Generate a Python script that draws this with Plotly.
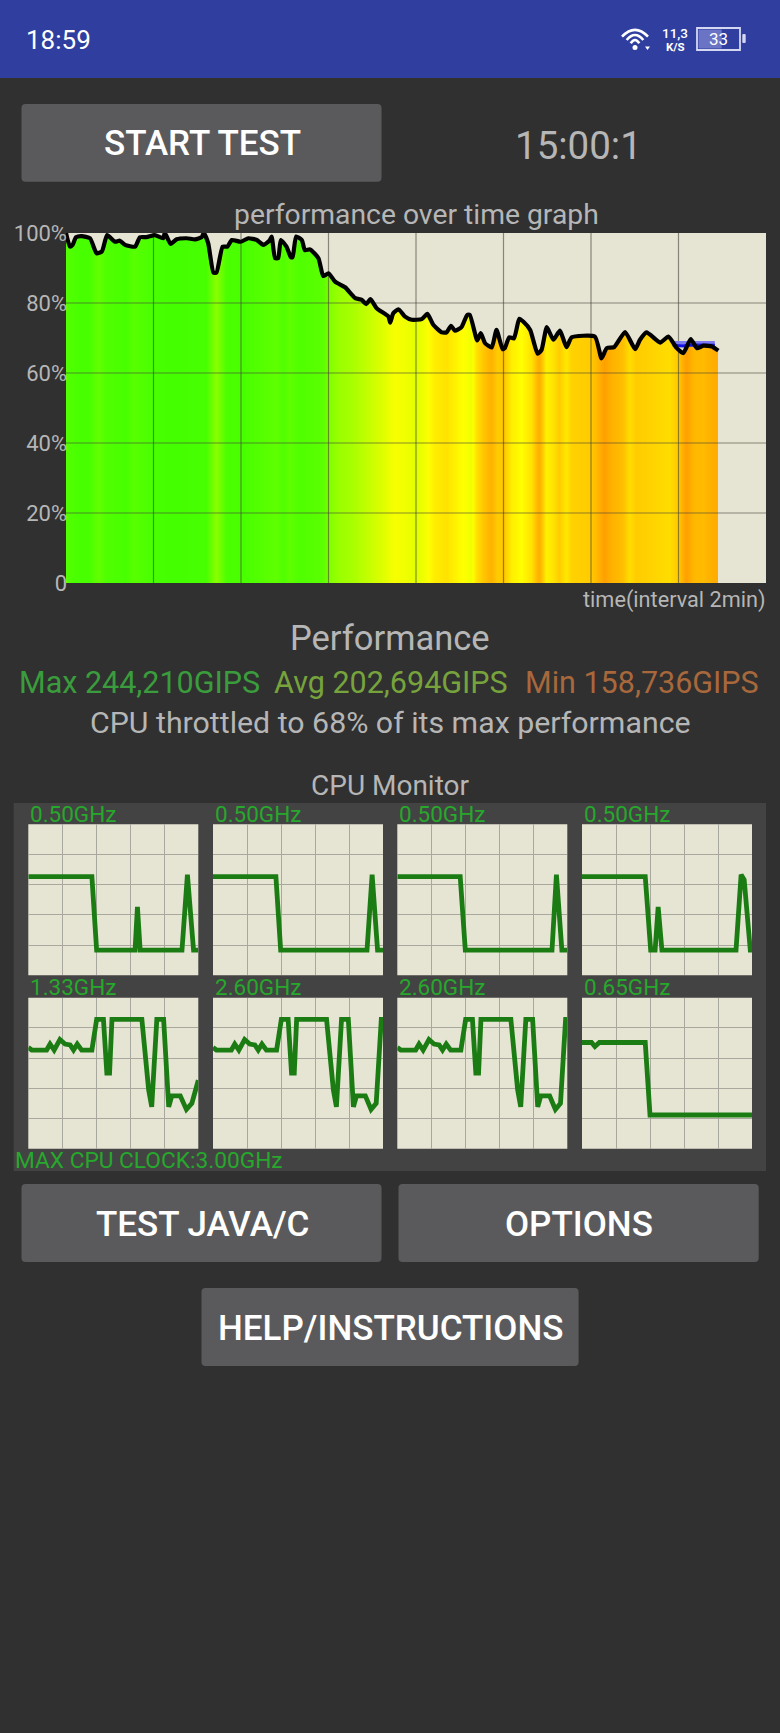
import plotly.graph_objects as go

W, H = 780, 1733

# performance over time, minutes vs % of max
perf_min = [0, 0.09, 0.15, 0.23, 0.36, 0.55, 0.70, 0.82, 0.94, 1.12, 1.23, 1.35, 1.58, 1.69, 1.84, 2.03, 2.22, 2.26,
            2.39, 2.53, 2.76, 2.95, 3.10, 3.15, 3.25, 3.37, 3.44, 3.58, 3.69, 3.79, 3.99, 4.17, 4.36, 4.51, 4.65, 4.70,
            4.78, 4.85, 4.91, 5.04, 5.14, 5.18, 5.26, 5.39, 5.46, 5.58, 5.77, 5.88, 6.00, 6.15, 6.38, 6.61, 6.76, 6.86,
            6.96, 7.10, 7.37, 7.41, 7.48, 7.60, 7.75, 7.90, 8.13, 8.26, 8.40, 8.59, 8.70, 8.80, 8.89, 9.04, 9.17, 9.23,
            9.40, 9.48, 9.58, 9.73, 9.84, 9.98, 10.03, 10.13, 10.24, 10.36, 10.45, 10.61, 10.78, 10.87, 10.99, 11.14,
            11.29, 11.44, 11.56, 12.09, 12.24, 12.36, 12.53, 12.78, 13.01, 13.12, 13.27, 13.58, 13.77, 13.96, 14.11,
            14.28, 14.42, 14.57, 14.76, 14.91]
perf_pct = [100, 96.1, 96.6, 98.8, 99.1, 98.5, 94.2, 94.7, 99.4, 97.5, 97.8, 96.6, 96.1, 98.8, 98.8, 99.4, 98.5, 100,
            96.9, 98.2, 98.5, 98.2, 98.8, 100, 97.1, 88.7, 88.7, 96.1, 96.1, 98, 97.5, 98.5, 98, 96.6, 97.8, 99,
            92.8, 92.8, 98, 96.1, 93.1, 93.1, 99, 98, 95.1, 95.3, 92.8, 87.7, 88.5, 86.1, 84.5, 81.4, 80.9, 79.7,
            81.1, 78.5, 76.1, 74.4, 77.1, 78.2, 76.1, 75.2, 75.4, 76.9, 73.7, 71.6, 71.6, 73.5, 72.1, 73.1, 76.6, 76.6,
            69.3, 71.4, 68.5, 67.3, 72.3, 66.8, 67.1, 70.2, 69.9, 75.5, 74.7, 72.3, 65.5, 66.6, 73.1, 69.5,
            72.1, 67.4, 70.2, 70.4, 64.2, 67.1, 67.4, 71.7, 66.8, 69.5, 71.6, 68.7, 70.4, 67.1, 65.7,
            69.7, 67.1, 67.8, 67.6, 66.4]

# the blue line near the end of the run
blue_min = [13.87, 14.1, 14.3, 14.5, 14.83]
blue_band_pct = [68.5, 68.5, 68.5, 68.5, 68.5]
blue_core_pct = [67.9, 67.7, 68.0, 67.9, 67.9]

# colour of the stripes under the line: 0 green, 0.5 yellow, 1 orange
heat_min = [0, 0.30, 0.53, 0.72, 0.91, 1.37, 1.52, 1.75, 2.0, 2.44, 3.2, 3.43, 3.66, 4.04, 4.42, 4.80, 4.95, 5.10,
            5.33, 5.87, 6.02, 6.25, 6.55, 6.86, 7.24, 7.50, 7.77, 8.0, 8.23, 8.42, 8.68, 8.99, 9.25, 9.37, 9.54, 9.71,
            9.86, 10.02, 10.17, 10.40, 10.63, 10.82, 10.97, 11.12, 11.27, 11.43, 11.54, 11.96, 12.11, 12.30, 12.49,
            12.72, 12.87, 13.03, 13.33, 13.79, 14.02, 14.17, 14.36, 14.55, 14.74, 14.85]
heat_level = [.06, .03, .03, .10, .05, .03, .07, .05, .03, .02, .03, .20, .04, .03, .06, .09, .05, .09,
              .05, .08, .18, .24, .28, .34, .42, .48, .46, .42, .48, .56, .6, .52, .46, .6, .70, .78,
              .68, .70, .56, .5, .6, .80, .55, .6, .68, .58, .66, .68, .74, .90, .78,
              .72, .62, .68, .66, .62, .70, .90, .75, .74, .80, .82]

grid_min = [2, 4, 6, 8, 10, 12, 14]
grid_pct = [20, 40, 60, 80]
pct_ticks = [0, 20, 40, 60, 80, 100]
pct_labels = ["0", "20%", "40%", "60%", "80%", "100%"]

# cpu monitor: time in grid cells (0-5), clock in GHz (0-3)
core0_x = [0, 1.87, 2.01, 3.14, 3.21, 3.29, 4.52, 4.68, 4.86, 5]
core0_y = [1.96, 1.96, 0.5, 0.5, 1.36, 0.5, 0.5, 2.0, 0.5, 0.5]
core1_x = [0, 1.85, 1.99, 4.53, 4.68, 4.84, 5]
core1_y = [1.96, 1.96, 0.5, 0.5, 2.0, 0.5, 0.5]
core2_x = [0, 1.85, 2.0, 4.55, 4.68, 4.84, 5]
core2_y = [1.96, 1.96, 0.5, 0.5, 2.0, 0.5, 0.5]
core3_x = [0, 1.86, 2.02, 2.15, 2.24, 2.35, 4.53, 4.68, 4.77, 4.95, 5]
core3_y = [1.96, 1.96, 0.5, 0.5, 1.36, 0.5, 0.5, 2.0, 1.9, 0.5, 0.5]
core4_x = [0, .10, .54, .64, .76, .93, 1.08, 1.23, 1.33, 1.44, 1.57, 1.87, 2.01, 2.21, 2.31, 2.39, 2.46, 3.34, 3.54,
           3.63, 3.78, 3.98, 4.13, 4.22, 4.47, 4.65, 4.81, 5]
core4_y = [2.01, 1.96, 1.96, 2.08, 1.96, 2.17, 2.08, 2.06, 1.96, 2.08, 1.96, 1.96, 2.57, 2.57, 1.50, 1.50, 2.57, 2.57,
           1.17, 0.83, 2.57, 2.57, 0.83, 1.05, 1.05, 0.78, 0.90, 1.36]
core5_x = [0, .10, .54, .64, .76, .93, 1.08, 1.23, 1.33, 1.44, 1.57, 1.87, 2.01, 2.21, 2.31, 2.39, 2.46, 3.34, 3.54,
           3.63, 3.78, 3.98, 4.13, 4.22, 4.48, 4.65, 4.80, 4.95, 5]
core5_y = [2.01, 1.96, 1.96, 2.08, 1.96, 2.17, 2.08, 2.06, 1.96, 2.08, 1.96, 1.96, 2.57, 2.57, 1.50, 1.50, 2.57, 2.57,
           1.17, 0.83, 2.57, 2.57, 0.83, 1.05, 1.05, 0.78, 0.90, 2.57, 2.57]
core6_x = core5_x
core6_y = core5_y
core7_x = [0, .28, .38, .51, 1.86, 2.0, 5]
core7_y = [2.11, 2.11, 2.03, 2.11, 2.11, 0.67, 0.67]

core_labels = ["0.50GHz", "0.50GHz", "0.50GHz", "0.50GHz", "1.33GHz", "2.60GHz", "2.60GHz", "0.65GHz"]
core_xs = [core0_x, core1_x, core2_x, core3_x, core4_x, core5_x, core6_x, core7_x]
core_ys = [core0_y, core1_y, core2_y, core3_y, core4_y, core5_y, core6_y, core7_y]

BG = "#303030"
PLOT_BG = "#e6e4d3"
TEXT = "#b6b6b6"
GREEN = "#27a82c"
CORE_LINE = "#1c7c14"
FONT = "Roboto"


def px(x):
    return x / W


def py(y):
    return 1 - y / H


def rect(x0, y0, x1, y1, color, r=0):
    # rounded rectangle as a paper path, coordinates given in page pixels
    d = (f"M{px(x0 + r)},{py(y0)} L{px(x1 - r)},{py(y0)} Q{px(x1)},{py(y0)} {px(x1)},{py(y0 + r)} "
         f"L{px(x1)},{py(y1 - r)} Q{px(x1)},{py(y1)} {px(x1 - r)},{py(y1)} L{px(x0 + r)},{py(y1)} "
         f"Q{px(x0)},{py(y1)} {px(x0)},{py(y1 - r)} L{px(x0)},{py(y0 + r)} Q{px(x0)},{py(y0)} {px(x0 + r)},{py(y0)} Z")
    return dict(type="path", path=d, xref="paper", yref="paper", fillcolor=color, line_width=0, layer="below")


def arc(x0, x1, y_end, y_ctrl):
    mid = (x0 + x1) / 2
    d = f"M{px(x0)},{py(y_end)} Q{px(mid)},{py(y_ctrl)} {px(x1)},{py(y_end)}"
    return dict(type="path", path=d, xref="paper", yref="paper", line=dict(color="white", width=2.6))


def label(text, x, y, size, color=TEXT, anchor="center", weight=400):
    return dict(text=text, x=px(x), y=py(y), xref="paper", yref="paper", xanchor=anchor, yanchor="middle",
                showarrow=False, borderpad=0, font=dict(family=FONT, size=size, color=color, weight=weight))


fig = go.Figure()

# stripes, masked above the line so only the part under the curve keeps its colour
fig.add_trace(go.Heatmap(x=heat_min, y=[0, 100], z=[heat_level, heat_level], zmin=0, zmax=1, zsmooth="best",
                         showscale=False, hoverinfo="skip",
                         colorscale=[[0, "#3cff00"], [0.5, "#ffff00"], [0.75, "#ffb800"], [1, "#ff9000"]]))
fig.add_trace(go.Scatter(x=perf_min + [perf_min[-1], 0], y=perf_pct + [100, 100], mode="none", fill="toself",
                         fillcolor=PLOT_BG, hoverinfo="skip"))

# grid has to sit on top of the stripes, so it is a trace and not the axis grid
grid_x, grid_y = [], []
for m in grid_min:
    grid_x += [m, m, None]
    grid_y += [0, 100, None]
for p in grid_pct:
    grid_x += [0, 16, None]
    grid_y += [p, p, None]
fig.add_trace(go.Scatter(x=grid_x, y=grid_y, mode="lines", line=dict(color="rgba(70,70,60,0.6)", width=1.2),
                         hoverinfo="skip"))

fig.add_trace(go.Scatter(x=blue_min, y=blue_band_pct, mode="lines", line=dict(color="#7c7cf0", width=4.5),
                         hoverinfo="skip"))
fig.add_trace(go.Scatter(x=blue_min, y=blue_core_pct, mode="lines", line=dict(color="#1414e0", width=3),
                         hoverinfo="skip"))
fig.add_trace(go.Scatter(x=perf_min, y=perf_pct, mode="lines", line=dict(color="black", width=4.2, shape="spline",
                                                                         smoothing=0.5),
                         hoverinfo="skip"))

axes = dict(
    xaxis=dict(domain=[px(66), px(766)], range=[0, 16], showgrid=False, zeroline=False, showticklabels=False,
               ticks=""),
    yaxis=dict(domain=[py(583), py(233)], range=[0, 100], showgrid=False, zeroline=False, ticks="",
               tickvals=pct_ticks, ticktext=pct_labels, tickfont=dict(family=FONT, size=22, color=TEXT),
               ticklabelstandoff=-2),
)

# the eight core graphs
col_left = [28.3, 213, 397.3, 582]
row_top = [824.3, 997.7]
cell_w, cell_h = 170, 151
texts = []
for i in range(8):
    n = i + 2
    left = col_left[i % 4]
    top = row_top[i // 4]
    axes[f"xaxis{n}"] = dict(domain=[px(left), px(left + cell_w)], range=[0, 5], dtick=1, anchor=f"y{n}",
                             showticklabels=False, ticks="", zeroline=False, gridcolor="#a9a89e", gridwidth=1.2)
    axes[f"yaxis{n}"] = dict(domain=[py(top + cell_h), py(top)], range=[0, 3], dtick=0.6, anchor=f"x{n}",
                             showticklabels=False, ticks="", zeroline=False, gridcolor="#a9a89e", gridwidth=1.2)
    fig.add_trace(go.Scatter(x=core_xs[i], y=core_ys[i], xaxis=f"x{n}", yaxis=f"y{n}", mode="lines",
                             line=dict(color=CORE_LINE, width=4.8), hoverinfo="skip"))
    texts.append(label(core_labels[i], left + 1, top - 10.5, 22.5, GREEN, "left"))

shapes = [
    rect(0, 0, W, 78, "#303f9f"),
    rect(21.5, 104, 381.5, 181.7, "#5a5a5c", 4),
    rect(21.5, 1184, 381.5, 1262, "#5a5a5c", 4),
    rect(398.5, 1184, 758.7, 1262, "#5a5a5c", 4),
    rect(201.5, 1288, 578.6, 1366, "#5a5a5c", 4),
    rect(13.7, 803, 766, 1171, "#434343"),
    # battery
    rect(698.5, 29.5, 721.7, 48.5, "#6b74c4", 1),
    dict(type="rect", xref="paper", yref="paper", x0=px(697), x1=px(740), y0=py(50), y1=py(28),
         line=dict(color="#d4d7f2", width=1.8)),
    rect(742.3, 34, 745.7, 43, "#d4d7f2", 1),
    # wifi
    arc(622, 648, 36.7, 23),
    arc(626.7, 643.3, 40, 30),
    arc(630.7, 639.3, 43.3, 36.7),
    dict(type="circle", xref="paper", yref="paper", x0=px(632.5), x1=px(637.5), y0=py(50), y1=py(45),
         fillcolor="white", line_width=0),
    dict(type="path", xref="paper", yref="paper", fillcolor="white", line_width=0,
         path=f"M{px(645)},{py(46.5)} L{px(650)},{py(46.5)} L{px(647.5)},{py(50)} Z"),
]
# panel covers the plot backgrounds, so the cells get their own
for i in range(8):
    left = col_left[i % 4]
    top = row_top[i // 4]
    shapes.append(rect(left, top, left + cell_w, top + cell_h, PLOT_BG))

texts += [
    label("18:59", 58, 40, 26, "white"),
    label("11,3", 675, 33, 13.5, "white", weight=500),
    label("K/S", 675, 46.7, 11.5, "white", weight=700),
    label("33", 718, 39, 17, "white"),
    label("START TEST", 202, 144, 35, "white", weight=500),
    label("15:00:1", 578, 145, 38.5),
    label("performance over time graph", 416, 215, 28.3),
    label("time(interval 2min)", 767, 600, 21.7, anchor="right"),
    label("Performance", 390, 638, 34.5),
    label("Max 244,210GIPS", 18, 682, 30.5, "#3a9c3c", "left"),
    label("Avg 202,694GIPS", 272.5, 682, 30.5, "#77a33c", "left"),
    label("Min 158,736GIPS", 524, 682, 30.5, "#a8683c", "left"),
    label("CPU throttled to 68% of its max performance", 390, 723, 30.3),
    label("CPU Monitor", 390, 785, 28),
    label("MAX CPU CLOCK:3.00GHz", 14, 1160, 22.7, GREEN, "left"),
    label("TEST JAVA/C", 202, 1224, 35, "white", weight=500),
    label("OPTIONS", 579, 1224, 35, "white", weight=500),
    label("HELP/INSTRUCTIONS", 390, 1328, 35, "white", weight=500),
]

fig.update_layout(
    width=W,
    height=H,
    margin=dict(l=0, r=0, t=0, b=0, autoexpand=False),
    paper_bgcolor=BG,
    plot_bgcolor=PLOT_BG,
    showlegend=False,
    hovermode=False,
    shapes=shapes,
    annotations=texts,
    **axes,
)

fig.write_html("out.html", config=dict(displayModeBar=False),
               post_script="document.body.style.margin='0';document.body.style.background='#303030';")
